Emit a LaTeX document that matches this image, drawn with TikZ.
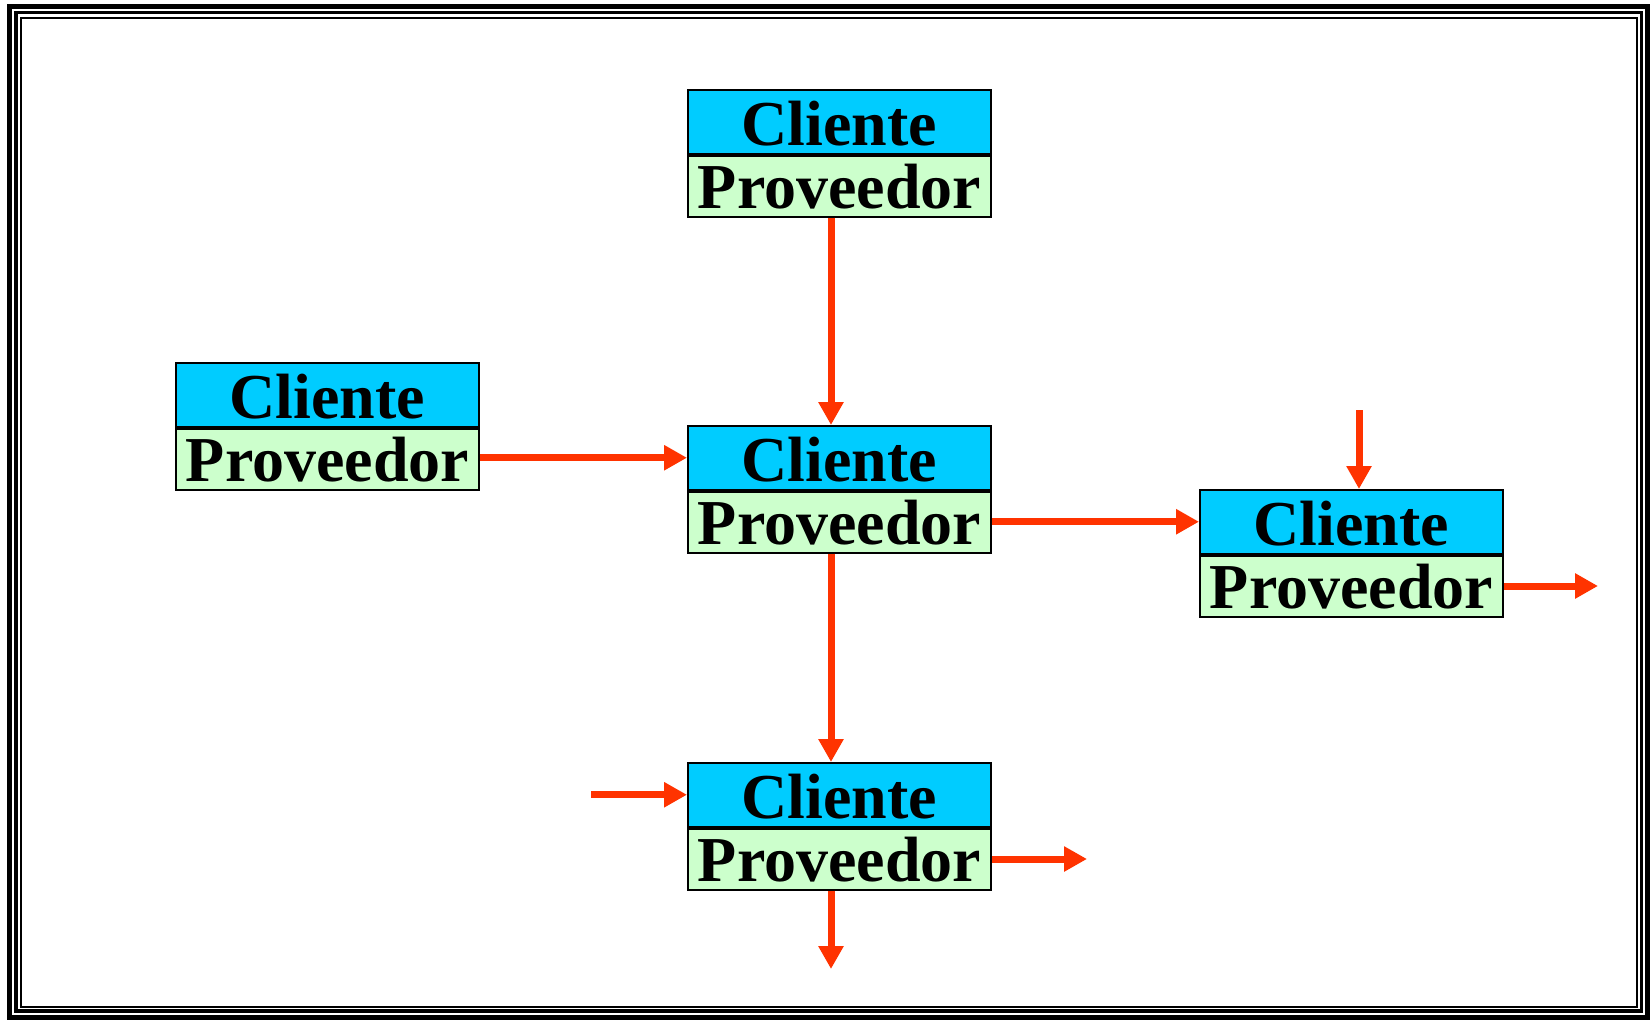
\documentclass[tikz,border=0pt]{standalone}
\usepackage{fontspec}
\setmainfont{Liberation Serif}
\usetikzlibrary{arrows.meta}
\definecolor{cli}{HTML}{00CCFF}
\definecolor{prov}{HTML}{CCFFCC}
\definecolor{arr}{HTML}{FF3300}
\begin{document}
\begin{tikzpicture}[x=1pt,y=-1pt,
  boxbase/.style={draw=black,line width=2pt,minimum width=303pt,inner xsep=0pt,inner ysep=0pt,
    font=\fontsize{64}{64}\selectfont\bfseries},
  clibox/.style={boxbase,fill=cli,text height=55pt,text depth=8.5pt},
  provbox/.style={boxbase,fill=prov,text height=53pt,text depth=8pt},
  flow/.style={draw=arr,line width=7pt,-{Triangle[length=23pt,width=24pt]}}]
\useasboundingbox (0,0) rectangle (1650,1021);
\fill[white] (0,0) rectangle (1650,1021);
% frame
\draw[line width=5pt] (9.5,6.5) rectangle (1647.5,1017.5);
\draw[line width=3.5pt] (16,12.5) rectangle (1641.5,1011);
\draw[line width=2.5pt] (21,18) rectangle (1637,1007);
% boxes
\node[clibox,anchor=north west] (tc) at (687,89) {Cliente};
\node[provbox,anchor=north] (tp) at (tc.south) {Proveedor};
\node[clibox,anchor=north west] (lc) at (175,362) {Cliente};
\node[provbox,anchor=north] (lp) at (lc.south) {Proveedor};
\node[clibox,anchor=north west] (mc) at (687,425) {Cliente};
\node[provbox,anchor=north] (mp) at (mc.south) {Proveedor};
\node[clibox,anchor=north west] (rc) at (1199,489) {Cliente};
\node[provbox,anchor=north] (rp) at (rc.south) {Proveedor};
\node[clibox,anchor=north west] (bc) at (687,762) {Cliente};
\node[provbox,anchor=north] (bp) at (bc.south) {Proveedor};
% helper coordinates
\coordinate (vx) at (831,0);
\coordinate (rin) at (1359,410);
\coordinate (rout) at (1598,0);
\coordinate (bin) at (591,0);
\coordinate (bout) at (1087,0);
\coordinate (bdown) at (831,969);
% connectors
\draw[flow] (tp.south -| vx) -- (mc.north -| vx);
\draw[flow] (lp.east |- mc.west) -- (mc.west);
\draw[flow] (mp.east |- rc.west) -- (rc.west);
\draw[flow] (rin) -- (rc.north -| rin);
\draw[flow] (rp.east) -- (rp.east -| rout);
\draw[flow] (mp.south -| vx) -- (bc.north -| vx);
\draw[flow] (bc.west -| bin) -- (bc.west);
\draw[flow] (bp.east) -- (bp.east -| bout);
\draw[flow] (bp.south -| vx) -- (bdown);
\end{tikzpicture}
\end{document}
